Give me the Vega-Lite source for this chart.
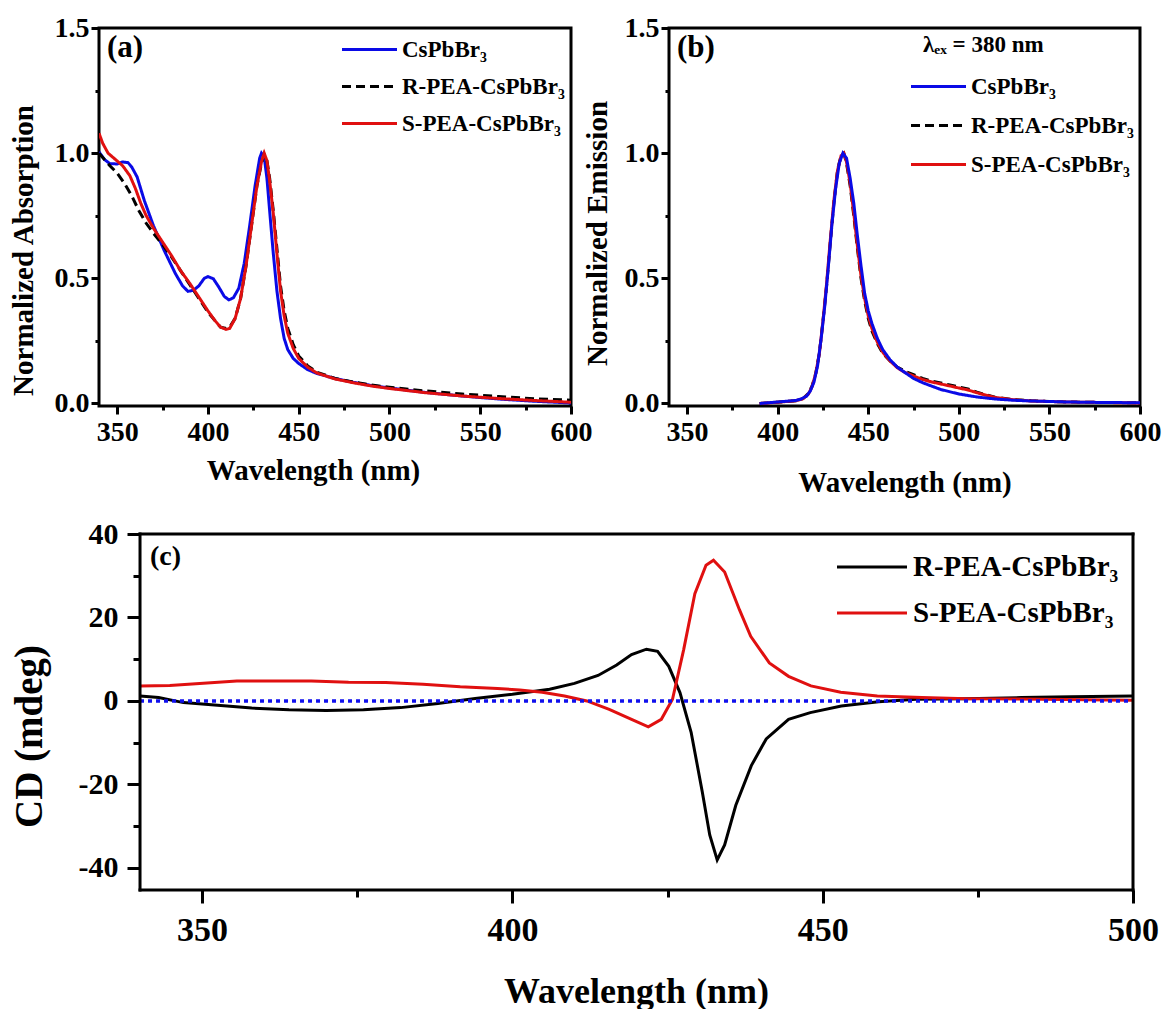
{
  "$schema": "https://vega.github.io/schema/vega-lite/v6.json",
  "background": "white",
  "padding": {"left": 7, "top": 12, "right": 0, "bottom": 0},
  "config": {
    "font": "Liberation Serif",
    "view": {"stroke": "black", "strokeWidth": 3},
    "axis": {"domain": false, "grid": false, "tickColor": "black", "labelColor": "black", "titleColor": "black", "labelFontWeight": "bold", "titleFontWeight": "bold", "labelFont": "Liberation Serif", "titleFont": "Liberation Serif"},
    "legend": {"labelFont": "Liberation Serif", "titleFont": "Liberation Serif", "labelFontWeight": "bold", "titleFontWeight": "bold", "labelColor": "black", "titleColor": "black", "labelLimit": 400}
  },
  "datasets": {
    "abs": [
      {"x": 340, "y": 1.005, "s": "CsPbBr₃"}, {"x": 343, "y": 0.975, "s": "CsPbBr₃"}, {"x": 346, "y": 0.958, "s": "CsPbBr₃"}, {"x": 350, "y": 0.957, "s": "CsPbBr₃"}, {"x": 353, "y": 0.965, "s": "CsPbBr₃"}, {"x": 356, "y": 0.962, "s": "CsPbBr₃"}, {"x": 358, "y": 0.945, "s": "CsPbBr₃"}, {"x": 361, "y": 0.905, "s": "CsPbBr₃"}, {"x": 365, "y": 0.81, "s": "CsPbBr₃"}, {"x": 370, "y": 0.71, "s": "CsPbBr₃"}, {"x": 376, "y": 0.61, "s": "CsPbBr₃"}, {"x": 382, "y": 0.52, "s": "CsPbBr₃"}, {"x": 386, "y": 0.47, "s": "CsPbBr₃"}, {"x": 389, "y": 0.448, "s": "CsPbBr₃"}, {"x": 392, "y": 0.452, "s": "CsPbBr₃"}, {"x": 395, "y": 0.47, "s": "CsPbBr₃"}, {"x": 398, "y": 0.5, "s": "CsPbBr₃"}, {"x": 400, "y": 0.507, "s": "CsPbBr₃"}, {"x": 403, "y": 0.498, "s": "CsPbBr₃"}, {"x": 406, "y": 0.465, "s": "CsPbBr₃"}, {"x": 409, "y": 0.428, "s": "CsPbBr₃"}, {"x": 411.5, "y": 0.414, "s": "CsPbBr₃"}, {"x": 414, "y": 0.422, "s": "CsPbBr₃"}, {"x": 417, "y": 0.46, "s": "CsPbBr₃"}, {"x": 420, "y": 0.56, "s": "CsPbBr₃"}, {"x": 423, "y": 0.71, "s": "CsPbBr₃"}, {"x": 426, "y": 0.87, "s": "CsPbBr₃"}, {"x": 428.5, "y": 0.98, "s": "CsPbBr₃"}, {"x": 429.5, "y": 1.0, "s": "CsPbBr₃"}, {"x": 431, "y": 0.985, "s": "CsPbBr₃"}, {"x": 432.5, "y": 0.9, "s": "CsPbBr₃"}, {"x": 434, "y": 0.77, "s": "CsPbBr₃"}, {"x": 436, "y": 0.6, "s": "CsPbBr₃"}, {"x": 438, "y": 0.45, "s": "CsPbBr₃"}, {"x": 440, "y": 0.34, "s": "CsPbBr₃"}, {"x": 442, "y": 0.26, "s": "CsPbBr₃"}, {"x": 444, "y": 0.215, "s": "CsPbBr₃"}, {"x": 447, "y": 0.18, "s": "CsPbBr₃"}, {"x": 450, "y": 0.16, "s": "CsPbBr₃"}, {"x": 455, "y": 0.135, "s": "CsPbBr₃"}, {"x": 460, "y": 0.12, "s": "CsPbBr₃"}, {"x": 470, "y": 0.1, "s": "CsPbBr₃"}, {"x": 480, "y": 0.085, "s": "CsPbBr₃"}, {"x": 490, "y": 0.072, "s": "CsPbBr₃"}, {"x": 500, "y": 0.062, "s": "CsPbBr₃"}, {"x": 520, "y": 0.044, "s": "CsPbBr₃"}, {"x": 540, "y": 0.03, "s": "CsPbBr₃"}, {"x": 560, "y": 0.018, "s": "CsPbBr₃"}, {"x": 580, "y": 0.009, "s": "CsPbBr₃"}, {"x": 600, "y": 0.002, "s": "CsPbBr₃"},
      {"x": 340, "y": 1.0, "s": "R-PEA-CsPbBr₃"}, {"x": 343, "y": 0.975, "s": "R-PEA-CsPbBr₃"}, {"x": 346, "y": 0.95, "s": "R-PEA-CsPbBr₃"}, {"x": 350, "y": 0.92, "s": "R-PEA-CsPbBr₃"}, {"x": 354, "y": 0.88, "s": "R-PEA-CsPbBr₃"}, {"x": 358, "y": 0.83, "s": "R-PEA-CsPbBr₃"}, {"x": 362, "y": 0.77, "s": "R-PEA-CsPbBr₃"}, {"x": 366, "y": 0.72, "s": "R-PEA-CsPbBr₃"}, {"x": 370, "y": 0.68, "s": "R-PEA-CsPbBr₃"}, {"x": 375, "y": 0.635, "s": "R-PEA-CsPbBr₃"}, {"x": 380, "y": 0.585, "s": "R-PEA-CsPbBr₃"}, {"x": 385, "y": 0.53, "s": "R-PEA-CsPbBr₃"}, {"x": 390, "y": 0.475, "s": "R-PEA-CsPbBr₃"}, {"x": 395, "y": 0.42, "s": "R-PEA-CsPbBr₃"}, {"x": 400, "y": 0.365, "s": "R-PEA-CsPbBr₃"}, {"x": 404, "y": 0.33, "s": "R-PEA-CsPbBr₃"}, {"x": 407, "y": 0.305, "s": "R-PEA-CsPbBr₃"}, {"x": 410, "y": 0.3, "s": "R-PEA-CsPbBr₃"}, {"x": 412, "y": 0.305, "s": "R-PEA-CsPbBr₃"}, {"x": 415, "y": 0.34, "s": "R-PEA-CsPbBr₃"}, {"x": 418, "y": 0.42, "s": "R-PEA-CsPbBr₃"}, {"x": 421, "y": 0.55, "s": "R-PEA-CsPbBr₃"}, {"x": 424, "y": 0.71, "s": "R-PEA-CsPbBr₃"}, {"x": 427, "y": 0.87, "s": "R-PEA-CsPbBr₃"}, {"x": 429.5, "y": 0.96, "s": "R-PEA-CsPbBr₃"}, {"x": 431, "y": 0.995, "s": "R-PEA-CsPbBr₃"}, {"x": 432.5, "y": 0.97, "s": "R-PEA-CsPbBr₃"}, {"x": 434, "y": 0.9, "s": "R-PEA-CsPbBr₃"}, {"x": 436, "y": 0.77, "s": "R-PEA-CsPbBr₃"}, {"x": 438, "y": 0.62, "s": "R-PEA-CsPbBr₃"}, {"x": 440, "y": 0.47, "s": "R-PEA-CsPbBr₃"}, {"x": 442, "y": 0.37, "s": "R-PEA-CsPbBr₃"}, {"x": 444, "y": 0.3, "s": "R-PEA-CsPbBr₃"}, {"x": 447, "y": 0.235, "s": "R-PEA-CsPbBr₃"}, {"x": 450, "y": 0.19, "s": "R-PEA-CsPbBr₃"}, {"x": 455, "y": 0.15, "s": "R-PEA-CsPbBr₃"}, {"x": 460, "y": 0.125, "s": "R-PEA-CsPbBr₃"}, {"x": 470, "y": 0.1, "s": "R-PEA-CsPbBr₃"}, {"x": 480, "y": 0.086, "s": "R-PEA-CsPbBr₃"}, {"x": 490, "y": 0.074, "s": "R-PEA-CsPbBr₃"}, {"x": 500, "y": 0.065, "s": "R-PEA-CsPbBr₃"}, {"x": 520, "y": 0.05, "s": "R-PEA-CsPbBr₃"}, {"x": 540, "y": 0.038, "s": "R-PEA-CsPbBr₃"}, {"x": 560, "y": 0.028, "s": "R-PEA-CsPbBr₃"}, {"x": 580, "y": 0.019, "s": "R-PEA-CsPbBr₃"}, {"x": 600, "y": 0.013, "s": "R-PEA-CsPbBr₃"},
      {"x": 340, "y": 1.08, "s": "S-PEA-CsPbBr₃"}, {"x": 342, "y": 1.04, "s": "S-PEA-CsPbBr₃"}, {"x": 345, "y": 1.0, "s": "S-PEA-CsPbBr₃"}, {"x": 349, "y": 0.975, "s": "S-PEA-CsPbBr₃"}, {"x": 353, "y": 0.95, "s": "S-PEA-CsPbBr₃"}, {"x": 357, "y": 0.91, "s": "S-PEA-CsPbBr₃"}, {"x": 360, "y": 0.86, "s": "S-PEA-CsPbBr₃"}, {"x": 363, "y": 0.8, "s": "S-PEA-CsPbBr₃"}, {"x": 366, "y": 0.75, "s": "S-PEA-CsPbBr₃"}, {"x": 370, "y": 0.7, "s": "S-PEA-CsPbBr₃"}, {"x": 375, "y": 0.645, "s": "S-PEA-CsPbBr₃"}, {"x": 380, "y": 0.59, "s": "S-PEA-CsPbBr₃"}, {"x": 385, "y": 0.53, "s": "S-PEA-CsPbBr₃"}, {"x": 390, "y": 0.48, "s": "S-PEA-CsPbBr₃"}, {"x": 395, "y": 0.425, "s": "S-PEA-CsPbBr₃"}, {"x": 400, "y": 0.37, "s": "S-PEA-CsPbBr₃"}, {"x": 404, "y": 0.33, "s": "S-PEA-CsPbBr₃"}, {"x": 407, "y": 0.305, "s": "S-PEA-CsPbBr₃"}, {"x": 410, "y": 0.296, "s": "S-PEA-CsPbBr₃"}, {"x": 412, "y": 0.3, "s": "S-PEA-CsPbBr₃"}, {"x": 415, "y": 0.34, "s": "S-PEA-CsPbBr₃"}, {"x": 418, "y": 0.42, "s": "S-PEA-CsPbBr₃"}, {"x": 421, "y": 0.55, "s": "S-PEA-CsPbBr₃"}, {"x": 424, "y": 0.71, "s": "S-PEA-CsPbBr₃"}, {"x": 427, "y": 0.87, "s": "S-PEA-CsPbBr₃"}, {"x": 429.5, "y": 0.965, "s": "S-PEA-CsPbBr₃"}, {"x": 431, "y": 1.0, "s": "S-PEA-CsPbBr₃"}, {"x": 432.5, "y": 0.97, "s": "S-PEA-CsPbBr₃"}, {"x": 434, "y": 0.89, "s": "S-PEA-CsPbBr₃"}, {"x": 436, "y": 0.76, "s": "S-PEA-CsPbBr₃"}, {"x": 438, "y": 0.6, "s": "S-PEA-CsPbBr₃"}, {"x": 440, "y": 0.45, "s": "S-PEA-CsPbBr₃"}, {"x": 442, "y": 0.35, "s": "S-PEA-CsPbBr₃"}, {"x": 444, "y": 0.28, "s": "S-PEA-CsPbBr₃"}, {"x": 447, "y": 0.22, "s": "S-PEA-CsPbBr₃"}, {"x": 450, "y": 0.18, "s": "S-PEA-CsPbBr₃"}, {"x": 455, "y": 0.145, "s": "S-PEA-CsPbBr₃"}, {"x": 460, "y": 0.122, "s": "S-PEA-CsPbBr₃"}, {"x": 470, "y": 0.098, "s": "S-PEA-CsPbBr₃"}, {"x": 480, "y": 0.083, "s": "S-PEA-CsPbBr₃"}, {"x": 490, "y": 0.07, "s": "S-PEA-CsPbBr₃"}, {"x": 500, "y": 0.06, "s": "S-PEA-CsPbBr₃"}, {"x": 520, "y": 0.043, "s": "S-PEA-CsPbBr₃"}, {"x": 540, "y": 0.03, "s": "S-PEA-CsPbBr₃"}, {"x": 560, "y": 0.02, "s": "S-PEA-CsPbBr₃"}, {"x": 580, "y": 0.012, "s": "S-PEA-CsPbBr₃"}, {"x": 600, "y": 0.005, "s": "S-PEA-CsPbBr₃"}
    ],
    "em": [
      {"x": 390, "y": 0.0, "s": "R-PEA-CsPbBr₃"}, {"x": 400, "y": 0.005, "s": "R-PEA-CsPbBr₃"}, {"x": 410, "y": 0.011, "s": "R-PEA-CsPbBr₃"}, {"x": 414, "y": 0.02, "s": "R-PEA-CsPbBr₃"}, {"x": 417, "y": 0.04, "s": "R-PEA-CsPbBr₃"}, {"x": 419, "y": 0.07, "s": "R-PEA-CsPbBr₃"}, {"x": 421, "y": 0.12, "s": "R-PEA-CsPbBr₃"}, {"x": 423, "y": 0.2, "s": "R-PEA-CsPbBr₃"}, {"x": 425, "y": 0.33, "s": "R-PEA-CsPbBr₃"}, {"x": 427, "y": 0.47, "s": "R-PEA-CsPbBr₃"}, {"x": 429, "y": 0.64, "s": "R-PEA-CsPbBr₃"}, {"x": 431, "y": 0.8, "s": "R-PEA-CsPbBr₃"}, {"x": 433, "y": 0.93, "s": "R-PEA-CsPbBr₃"}, {"x": 435, "y": 0.99, "s": "R-PEA-CsPbBr₃"}, {"x": 436.5, "y": 1.0, "s": "R-PEA-CsPbBr₃"}, {"x": 438, "y": 0.96, "s": "R-PEA-CsPbBr₃"}, {"x": 440, "y": 0.87, "s": "R-PEA-CsPbBr₃"}, {"x": 442, "y": 0.75, "s": "R-PEA-CsPbBr₃"}, {"x": 444, "y": 0.62, "s": "R-PEA-CsPbBr₃"}, {"x": 446, "y": 0.5, "s": "R-PEA-CsPbBr₃"}, {"x": 448, "y": 0.41, "s": "R-PEA-CsPbBr₃"}, {"x": 450, "y": 0.34, "s": "R-PEA-CsPbBr₃"}, {"x": 452, "y": 0.29, "s": "R-PEA-CsPbBr₃"}, {"x": 455, "y": 0.24, "s": "R-PEA-CsPbBr₃"}, {"x": 458, "y": 0.2, "s": "R-PEA-CsPbBr₃"}, {"x": 462, "y": 0.17, "s": "R-PEA-CsPbBr₃"}, {"x": 466, "y": 0.145, "s": "R-PEA-CsPbBr₃"}, {"x": 470, "y": 0.13, "s": "R-PEA-CsPbBr₃"}, {"x": 475, "y": 0.115, "s": "R-PEA-CsPbBr₃"}, {"x": 480, "y": 0.1, "s": "R-PEA-CsPbBr₃"}, {"x": 485, "y": 0.09, "s": "R-PEA-CsPbBr₃"}, {"x": 490, "y": 0.082, "s": "R-PEA-CsPbBr₃"}, {"x": 495, "y": 0.074, "s": "R-PEA-CsPbBr₃"}, {"x": 500, "y": 0.066, "s": "R-PEA-CsPbBr₃"}, {"x": 505, "y": 0.058, "s": "R-PEA-CsPbBr₃"}, {"x": 510, "y": 0.045, "s": "R-PEA-CsPbBr₃"}, {"x": 515, "y": 0.035, "s": "R-PEA-CsPbBr₃"}, {"x": 520, "y": 0.025, "s": "R-PEA-CsPbBr₃"}, {"x": 530, "y": 0.016, "s": "R-PEA-CsPbBr₃"}, {"x": 540, "y": 0.011, "s": "R-PEA-CsPbBr₃"}, {"x": 550, "y": 0.008, "s": "R-PEA-CsPbBr₃"}, {"x": 560, "y": 0.006, "s": "R-PEA-CsPbBr₃"}, {"x": 580, "y": 0.004, "s": "R-PEA-CsPbBr₃"}, {"x": 600, "y": 0.003, "s": "R-PEA-CsPbBr₃"},
      {"x": 390, "y": 0.0, "s": "S-PEA-CsPbBr₃"}, {"x": 400, "y": 0.005, "s": "S-PEA-CsPbBr₃"}, {"x": 410, "y": 0.011, "s": "S-PEA-CsPbBr₃"}, {"x": 414, "y": 0.019, "s": "S-PEA-CsPbBr₃"}, {"x": 417, "y": 0.038, "s": "S-PEA-CsPbBr₃"}, {"x": 419, "y": 0.068, "s": "S-PEA-CsPbBr₃"}, {"x": 421, "y": 0.12, "s": "S-PEA-CsPbBr₃"}, {"x": 423, "y": 0.2, "s": "S-PEA-CsPbBr₃"}, {"x": 425, "y": 0.33, "s": "S-PEA-CsPbBr₃"}, {"x": 427, "y": 0.48, "s": "S-PEA-CsPbBr₃"}, {"x": 429, "y": 0.65, "s": "S-PEA-CsPbBr₃"}, {"x": 431, "y": 0.81, "s": "S-PEA-CsPbBr₃"}, {"x": 433, "y": 0.93, "s": "S-PEA-CsPbBr₃"}, {"x": 435, "y": 0.99, "s": "S-PEA-CsPbBr₃"}, {"x": 436.5, "y": 1.0, "s": "S-PEA-CsPbBr₃"}, {"x": 438, "y": 0.965, "s": "S-PEA-CsPbBr₃"}, {"x": 440, "y": 0.88, "s": "S-PEA-CsPbBr₃"}, {"x": 442, "y": 0.76, "s": "S-PEA-CsPbBr₃"}, {"x": 444, "y": 0.63, "s": "S-PEA-CsPbBr₃"}, {"x": 446, "y": 0.51, "s": "S-PEA-CsPbBr₃"}, {"x": 448, "y": 0.42, "s": "S-PEA-CsPbBr₃"}, {"x": 450, "y": 0.35, "s": "S-PEA-CsPbBr₃"}, {"x": 452, "y": 0.3, "s": "S-PEA-CsPbBr₃"}, {"x": 455, "y": 0.245, "s": "S-PEA-CsPbBr₃"}, {"x": 458, "y": 0.205, "s": "S-PEA-CsPbBr₃"}, {"x": 462, "y": 0.17, "s": "S-PEA-CsPbBr₃"}, {"x": 466, "y": 0.143, "s": "S-PEA-CsPbBr₃"}, {"x": 470, "y": 0.125, "s": "S-PEA-CsPbBr₃"}, {"x": 475, "y": 0.11, "s": "S-PEA-CsPbBr₃"}, {"x": 480, "y": 0.096, "s": "S-PEA-CsPbBr₃"}, {"x": 485, "y": 0.086, "s": "S-PEA-CsPbBr₃"}, {"x": 490, "y": 0.078, "s": "S-PEA-CsPbBr₃"}, {"x": 495, "y": 0.07, "s": "S-PEA-CsPbBr₃"}, {"x": 500, "y": 0.062, "s": "S-PEA-CsPbBr₃"}, {"x": 505, "y": 0.054, "s": "S-PEA-CsPbBr₃"}, {"x": 510, "y": 0.043, "s": "S-PEA-CsPbBr₃"}, {"x": 515, "y": 0.033, "s": "S-PEA-CsPbBr₃"}, {"x": 520, "y": 0.024, "s": "S-PEA-CsPbBr₃"}, {"x": 530, "y": 0.015, "s": "S-PEA-CsPbBr₃"}, {"x": 540, "y": 0.01, "s": "S-PEA-CsPbBr₃"}, {"x": 550, "y": 0.008, "s": "S-PEA-CsPbBr₃"}, {"x": 560, "y": 0.006, "s": "S-PEA-CsPbBr₃"}, {"x": 580, "y": 0.004, "s": "S-PEA-CsPbBr₃"}, {"x": 600, "y": 0.002, "s": "S-PEA-CsPbBr₃"},
      {"x": 390, "y": 0.0, "s": "CsPbBr₃"}, {"x": 395, "y": 0.003, "s": "CsPbBr₃"}, {"x": 400, "y": 0.006, "s": "CsPbBr₃"}, {"x": 405, "y": 0.009, "s": "CsPbBr₃"}, {"x": 410, "y": 0.012, "s": "CsPbBr₃"}, {"x": 413, "y": 0.018, "s": "CsPbBr₃"}, {"x": 416, "y": 0.03, "s": "CsPbBr₃"}, {"x": 418, "y": 0.05, "s": "CsPbBr₃"}, {"x": 420, "y": 0.085, "s": "CsPbBr₃"}, {"x": 422, "y": 0.15, "s": "CsPbBr₃"}, {"x": 424, "y": 0.26, "s": "CsPbBr₃"}, {"x": 426, "y": 0.39, "s": "CsPbBr₃"}, {"x": 428, "y": 0.55, "s": "CsPbBr₃"}, {"x": 430, "y": 0.72, "s": "CsPbBr₃"}, {"x": 432, "y": 0.86, "s": "CsPbBr₃"}, {"x": 434, "y": 0.96, "s": "CsPbBr₃"}, {"x": 436, "y": 1.0, "s": "CsPbBr₃"}, {"x": 438, "y": 0.98, "s": "CsPbBr₃"}, {"x": 440, "y": 0.9, "s": "CsPbBr₃"}, {"x": 442, "y": 0.8, "s": "CsPbBr₃"}, {"x": 444, "y": 0.67, "s": "CsPbBr₃"}, {"x": 446, "y": 0.55, "s": "CsPbBr₃"}, {"x": 448, "y": 0.44, "s": "CsPbBr₃"}, {"x": 450, "y": 0.37, "s": "CsPbBr₃"}, {"x": 452, "y": 0.32, "s": "CsPbBr₃"}, {"x": 455, "y": 0.26, "s": "CsPbBr₃"}, {"x": 458, "y": 0.215, "s": "CsPbBr₃"}, {"x": 462, "y": 0.175, "s": "CsPbBr₃"}, {"x": 466, "y": 0.145, "s": "CsPbBr₃"}, {"x": 470, "y": 0.125, "s": "CsPbBr₃"}, {"x": 475, "y": 0.1, "s": "CsPbBr₃"}, {"x": 480, "y": 0.083, "s": "CsPbBr₃"}, {"x": 490, "y": 0.056, "s": "CsPbBr₃"}, {"x": 500, "y": 0.038, "s": "CsPbBr₃"}, {"x": 510, "y": 0.026, "s": "CsPbBr₃"}, {"x": 520, "y": 0.018, "s": "CsPbBr₃"}, {"x": 530, "y": 0.013, "s": "CsPbBr₃"}, {"x": 540, "y": 0.01, "s": "CsPbBr₃"}, {"x": 550, "y": 0.008, "s": "CsPbBr₃"}, {"x": 560, "y": 0.006, "s": "CsPbBr₃"}, {"x": 580, "y": 0.004, "s": "CsPbBr₃"}, {"x": 600, "y": 0.003, "s": "CsPbBr₃"}
    ],
    "cd": [
      {"x": 340, "y": 1.2, "s": "R-PEA-CsPbBr₃"}, {"x": 343, "y": 0.8, "s": "R-PEA-CsPbBr₃"}, {"x": 347, "y": -0.4, "s": "R-PEA-CsPbBr₃"}, {"x": 352, "y": -1.0, "s": "R-PEA-CsPbBr₃"}, {"x": 358, "y": -1.7, "s": "R-PEA-CsPbBr₃"}, {"x": 364, "y": -2.1, "s": "R-PEA-CsPbBr₃"}, {"x": 370, "y": -2.3, "s": "R-PEA-CsPbBr₃"}, {"x": 376, "y": -2.1, "s": "R-PEA-CsPbBr₃"}, {"x": 382, "y": -1.6, "s": "R-PEA-CsPbBr₃"}, {"x": 388, "y": -0.6, "s": "R-PEA-CsPbBr₃"}, {"x": 394, "y": 0.6, "s": "R-PEA-CsPbBr₃"}, {"x": 400, "y": 1.6, "s": "R-PEA-CsPbBr₃"}, {"x": 406, "y": 2.8, "s": "R-PEA-CsPbBr₃"}, {"x": 410, "y": 4.2, "s": "R-PEA-CsPbBr₃"}, {"x": 413.8, "y": 6.1, "s": "R-PEA-CsPbBr₃"}, {"x": 416.8, "y": 8.6, "s": "R-PEA-CsPbBr₃"}, {"x": 419.2, "y": 11.1, "s": "R-PEA-CsPbBr₃"}, {"x": 421.6, "y": 12.4, "s": "R-PEA-CsPbBr₃"}, {"x": 423.4, "y": 11.9, "s": "R-PEA-CsPbBr₃"}, {"x": 425.2, "y": 8.3, "s": "R-PEA-CsPbBr₃"}, {"x": 427, "y": 2.0, "s": "R-PEA-CsPbBr₃"}, {"x": 428.8, "y": -7.5, "s": "R-PEA-CsPbBr₃"}, {"x": 430.6, "y": -21.8, "s": "R-PEA-CsPbBr₃"}, {"x": 431.8, "y": -32.1, "s": "R-PEA-CsPbBr₃"}, {"x": 433, "y": -38.1, "s": "R-PEA-CsPbBr₃"}, {"x": 434.2, "y": -34.5, "s": "R-PEA-CsPbBr₃"}, {"x": 436, "y": -25, "s": "R-PEA-CsPbBr₃"}, {"x": 438.5, "y": -15.5, "s": "R-PEA-CsPbBr₃"}, {"x": 440.9, "y": -9.1, "s": "R-PEA-CsPbBr₃"}, {"x": 444.5, "y": -4.4, "s": "R-PEA-CsPbBr₃"}, {"x": 448, "y": -2.8, "s": "R-PEA-CsPbBr₃"}, {"x": 453, "y": -1.2, "s": "R-PEA-CsPbBr₃"}, {"x": 459, "y": -0.2, "s": "R-PEA-CsPbBr₃"}, {"x": 465, "y": 0.4, "s": "R-PEA-CsPbBr₃"}, {"x": 473, "y": 0.55, "s": "R-PEA-CsPbBr₃"}, {"x": 482, "y": 0.8, "s": "R-PEA-CsPbBr₃"}, {"x": 490, "y": 1.0, "s": "R-PEA-CsPbBr₃"}, {"x": 500, "y": 1.2, "s": "R-PEA-CsPbBr₃"},
      {"x": 340, "y": 3.6, "s": "S-PEA-CsPbBr₃"}, {"x": 344.8, "y": 3.7, "s": "S-PEA-CsPbBr₃"}, {"x": 349.6, "y": 4.2, "s": "S-PEA-CsPbBr₃"}, {"x": 355.6, "y": 4.8, "s": "S-PEA-CsPbBr₃"}, {"x": 361.6, "y": 4.8, "s": "S-PEA-CsPbBr₃"}, {"x": 367.6, "y": 4.8, "s": "S-PEA-CsPbBr₃"}, {"x": 373.6, "y": 4.5, "s": "S-PEA-CsPbBr₃"}, {"x": 379.6, "y": 4.4, "s": "S-PEA-CsPbBr₃"}, {"x": 385.6, "y": 4.0, "s": "S-PEA-CsPbBr₃"}, {"x": 391.6, "y": 3.4, "s": "S-PEA-CsPbBr₃"}, {"x": 397.6, "y": 3.0, "s": "S-PEA-CsPbBr₃"}, {"x": 401.2, "y": 2.6, "s": "S-PEA-CsPbBr₃"}, {"x": 404.8, "y": 2.1, "s": "S-PEA-CsPbBr₃"}, {"x": 408.4, "y": 1.2, "s": "S-PEA-CsPbBr₃"}, {"x": 412, "y": 0.0, "s": "S-PEA-CsPbBr₃"}, {"x": 415.6, "y": -2.0, "s": "S-PEA-CsPbBr₃"}, {"x": 419.2, "y": -4.4, "s": "S-PEA-CsPbBr₃"}, {"x": 421.9, "y": -6.2, "s": "S-PEA-CsPbBr₃"}, {"x": 424, "y": -4.4, "s": "S-PEA-CsPbBr₃"}, {"x": 425.8, "y": 0.4, "s": "S-PEA-CsPbBr₃"}, {"x": 427.6, "y": 12.3, "s": "S-PEA-CsPbBr₃"}, {"x": 429.4, "y": 25.7, "s": "S-PEA-CsPbBr₃"}, {"x": 431.2, "y": 32.5, "s": "S-PEA-CsPbBr₃"}, {"x": 432.4, "y": 33.7, "s": "S-PEA-CsPbBr₃"}, {"x": 434.2, "y": 30.9, "s": "S-PEA-CsPbBr₃"}, {"x": 436.6, "y": 21.8, "s": "S-PEA-CsPbBr₃"}, {"x": 438.4, "y": 15.5, "s": "S-PEA-CsPbBr₃"}, {"x": 441.4, "y": 9.1, "s": "S-PEA-CsPbBr₃"}, {"x": 444.5, "y": 5.9, "s": "S-PEA-CsPbBr₃"}, {"x": 448.1, "y": 3.6, "s": "S-PEA-CsPbBr₃"}, {"x": 452.9, "y": 2.1, "s": "S-PEA-CsPbBr₃"}, {"x": 458.8, "y": 1.2, "s": "S-PEA-CsPbBr₃"}, {"x": 466, "y": 0.8, "s": "S-PEA-CsPbBr₃"}, {"x": 473.2, "y": 0.55, "s": "S-PEA-CsPbBr₃"}, {"x": 485.2, "y": 0.4, "s": "S-PEA-CsPbBr₃"}, {"x": 500, "y": 0.15, "s": "S-PEA-CsPbBr₃"}
    ]
  },
  "vconcat": [
    {
      "hconcat": [
        {
          "width": 472, "height": 378,
          "layer": [
            {
              "data": {"name": "abs"},
              "mark": {"type": "line", "strokeWidth": 3, "clip": true},
              "encoding": {
                "x": {"field": "x", "type": "quantitative", "scale": {"domain": [340, 600], "nice": false, "zero": false},
                  "axis": {"values": [350, 375, 400, 425, 450, 475, 500, 525, 550, 575, 600], "labelExpr": "datum.value % 50 == 0 ? '' + datum.value : ''", "tickSize": {"condition": {"test": "datum.value % 50 == 0", "value": 8}, "value": 4}, "tickWidth": 3, "labelFontSize": 28, "labelPadding": 4, "labelFlush": false, "title": "Wavelength (nm)", "titleFontSize": 29, "titlePadding": 10, "titleX": 214}},
                "y": {"field": "y", "type": "quantitative", "scale": {"domain": [-0.01, 1.5], "nice": false, "zero": false},
                  "axis": {"values": [0, 0.25, 0.5, 0.75, 1, 1.25, 1.5], "labelExpr": "datum.value % 0.5 == 0 ? format(datum.value, '.1f') : ''", "tickSize": {"condition": {"test": "datum.value % 0.5 == 0", "value": 8}, "value": 4}, "tickWidth": 3, "labelFontSize": 28, "labelPadding": 2, "labelFlush": false, "title": "Normalized Absorption", "titleFontSize": 29, "titlePadding": 16, "titleY": 222}},
                "color": {"field": "s", "type": "nominal", "scale": {"domain": ["CsPbBr₃", "R-PEA-CsPbBr₃", "S-PEA-CsPbBr₃"], "range": ["#0a0ae6", "#000000", "#e01010"]},
                  "legend": {"title": null, "orient": "top-right", "offset": 6, "symbolType": "M-2,0H2", "symbolSize": 756, "symbolStrokeWidth": 3, "labelFontSize": 23, "rowPadding": 9, "labelOffset": 17, "padding": 0}},
                "strokeDash": {"field": "s", "type": "nominal", "scale": {"domain": ["CsPbBr₃", "R-PEA-CsPbBr₃", "S-PEA-CsPbBr₃"], "range": [[1, 0], [9, 5], [1, 0]]},
                  "legend": {"title": null, "orient": "top-right", "offset": 6, "symbolType": "M-2,0H2", "symbolSize": 756, "symbolStrokeWidth": 3, "labelFontSize": 23, "rowPadding": 9, "labelOffset": 17, "padding": 0}}
              }
            },
            {
              "data": {"values": [{"x": 340, "y": 1.5, "t": "(a)"}]},
              "mark": {"type": "text", "align": "left", "baseline": "top", "dx": 8, "dy": 5, "fontSize": 31, "fontWeight": "bold", "font": "Liberation Serif", "color": "black"},
              "encoding": {"x": {"field": "x", "type": "quantitative"}, "y": {"field": "y", "type": "quantitative"}, "text": {"field": "t"}}
            }
          ]
        },
        {
          "width": 471, "height": 378,
          "layer": [
            {
              "data": {"name": "em"},
              "mark": {"type": "line", "strokeWidth": 3, "clip": true},
              "encoding": {
                "x": {"field": "x", "type": "quantitative", "scale": {"domain": [340, 600], "nice": false, "zero": false},
                  "axis": {"values": [350, 375, 400, 425, 450, 475, 500, 525, 550, 575, 600], "labelExpr": "datum.value % 50 == 0 ? '' + datum.value : ''", "tickSize": {"condition": {"test": "datum.value % 50 == 0", "value": 8}, "value": 4}, "tickWidth": 3, "labelFontSize": 28, "labelPadding": 4, "labelFlush": false, "title": "Wavelength (nm)", "titleFontSize": 29, "titlePadding": 22}},
                "y": {"field": "y", "type": "quantitative", "scale": {"domain": [-0.01, 1.5], "nice": false, "zero": false},
                  "axis": {"values": [0, 0.25, 0.5, 0.75, 1, 1.25, 1.5], "labelExpr": "datum.value % 0.5 == 0 ? format(datum.value, '.1f') : ''", "tickSize": {"condition": {"test": "datum.value % 0.5 == 0", "value": 8}, "value": 4}, "tickWidth": 3, "labelFontSize": 28, "labelPadding": 2, "labelFlush": false, "title": "Normalized Emission", "titleFontSize": 29, "titlePadding": 12, "titleY": 205}},
                "color": {"field": "s", "type": "nominal", "scale": {"domain": ["CsPbBr₃", "R-PEA-CsPbBr₃", "S-PEA-CsPbBr₃"], "range": ["#0a0ae6", "#000000", "#e01010"]},
                  "legend": {"title": "λₑₓ = 380 nm", "titleFontSize": 23, "titlePadding": 14, "orient": "top-right", "offset": 6, "symbolType": "M-2,0H2", "symbolSize": 756, "symbolStrokeWidth": 3, "labelFontSize": 23, "rowPadding": 11, "labelOffset": 17, "padding": 0}},
                "strokeDash": {"field": "s", "type": "nominal", "scale": {"domain": ["CsPbBr₃", "R-PEA-CsPbBr₃", "S-PEA-CsPbBr₃"], "range": [[1, 0], [9, 5], [1, 0]]},
                  "legend": {"title": "λₑₓ = 380 nm", "titleFontSize": 23, "titlePadding": 14, "orient": "top-right", "offset": 6, "symbolType": "M-2,0H2", "symbolSize": 756, "symbolStrokeWidth": 3, "labelFontSize": 23, "rowPadding": 11, "labelOffset": 17, "padding": 0}}
              }
            },
            {
              "data": {"values": [{"x": 340, "y": 1.5, "t": "(b)"}]},
              "mark": {"type": "text", "align": "left", "baseline": "top", "dx": 8, "dy": 5, "fontSize": 31, "fontWeight": "bold", "font": "Liberation Serif", "color": "black"},
              "encoding": {"x": {"field": "x", "type": "quantitative"}, "y": {"field": "y", "type": "quantitative"}, "text": {"field": "t"}}
            }
          ]
        }
      ],
      "spacing": 98,
      "bounds": "flush",
      "resolve": {"scale": {"x": "independent", "y": "independent", "color": "independent", "strokeDash": "independent"}, "legend": {"color": "independent", "strokeDash": "independent"}}
    },
    {
      "width": 1034, "height": 356,
      "view": {"stroke": null},
      "layer": [
        {
          "data": {"name": "cd"},
          "mark": {"type": "line", "strokeWidth": 3, "clip": true},
          "encoding": {
            "x": {"field": "x", "type": "quantitative", "scale": {"domain": [333.39, 500], "nice": false, "zero": false},
              "axis": {"values": [350, 375, 400, 425, 450, 475, 500], "labelExpr": "datum.value % 50 == 0 ? '' + datum.value : ''", "tickSize": {"condition": {"test": "datum.value % 50 == 0", "value": 13}, "value": 7}, "tickWidth": 3, "labelFontSize": 34, "labelPadding": 10, "labelFlush": false, "title": "Wavelength (nm)", "titleFontSize": 36, "titlePadding": 27, "titleX": 537}},
            "y": {"field": "y", "type": "quantitative", "scale": {"domain": [-45.3, 40], "nice": false, "zero": false},
              "axis": {"values": [-40, -30, -20, -10, 0, 10, 20, 30, 40], "labelExpr": "datum.value % 20 == 0 ? '' + datum.value : ''", "tickSize": {"condition": {"test": "datum.value % 20 == 0", "value": 13}, "value": 7}, "tickWidth": 3, "labelFontSize": 30, "labelPadding": 9, "labelFlush": false, "title": "CD (mdeg)", "titleFontSize": 39, "titlePadding": 29, "titleY": 202, "offset": -41}},
            "color": {"field": "s", "type": "nominal", "scale": {"domain": ["R-PEA-CsPbBr₃", "S-PEA-CsPbBr₃"], "range": ["#000000", "#e01010"]},
              "legend": {"title": null, "orient": "top-right", "offset": 14, "symbolType": "M-2,0H2", "symbolSize": 1225, "symbolStrokeWidth": 3, "labelFontSize": 29, "rowPadding": 12, "labelOffset": 22, "padding": 0}}
          }
        },
        {
          "data": {"values": [{}]},
          "mark": {"type": "rule", "color": "#1010ee", "strokeWidth": 3.5, "strokeDash": [4, 4]},
          "encoding": {"x": {"datum": 340}, "x2": {"datum": 500}, "y": {"datum": 0}}
        },
        {
          "data": {"values": [{}]},
          "mark": {"type": "rule", "color": "black", "strokeWidth": 3, "strokeCap": "square"},
          "encoding": {"x": {"datum": 340}, "x2": {"datum": 500}, "y": {"datum": 40}}
        },
        {
          "data": {"values": [{}]},
          "mark": {"type": "rule", "color": "black", "strokeWidth": 3, "strokeCap": "square"},
          "encoding": {"x": {"datum": 340}, "x2": {"datum": 500}, "y": {"datum": -45.3}}
        },
        {
          "data": {"values": [{}]},
          "mark": {"type": "rule", "color": "black", "strokeWidth": 3, "strokeCap": "square"},
          "encoding": {"x": {"datum": 340}, "y": {"datum": -45.3}, "y2": {"datum": 40}}
        },
        {
          "data": {"values": [{}]},
          "mark": {"type": "rule", "color": "black", "strokeWidth": 3, "strokeCap": "square"},
          "encoding": {"x": {"datum": 500}, "y": {"datum": -45.3}, "y2": {"datum": 40}}
        },
        {
          "data": {"values": [{"x": 340, "y": 40, "t": "(c)"}]},
          "mark": {"type": "text", "align": "left", "baseline": "top", "dx": 10, "dy": 9, "fontSize": 28, "fontWeight": "bold", "font": "Liberation Serif", "color": "black"},
          "encoding": {"x": {"field": "x", "type": "quantitative"}, "y": {"field": "y", "type": "quantitative"}, "text": {"field": "t"}}
        }
      ]
    }
  ],
  "spacing": 20,
  "resolve": {"scale": {"x": "independent", "y": "independent", "color": "independent", "strokeDash": "independent"}, "legend": {"color": "independent", "strokeDash": "independent"}}
}
